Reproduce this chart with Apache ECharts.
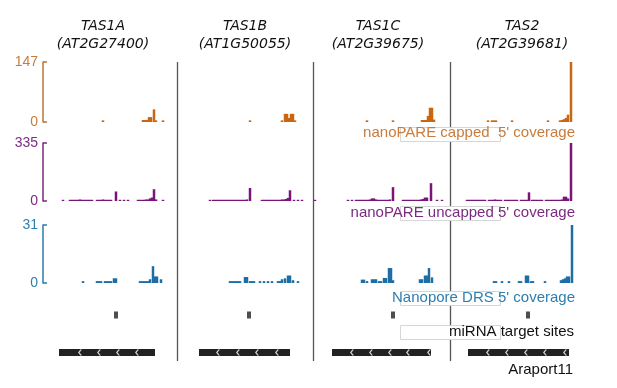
<!DOCTYPE html>
<html>
<head>
<meta charset="utf-8">
<script src="https://cdn.jsdelivr.net/npm/echarts@6/dist/echarts.min.js"></script>
<style>
html, body { margin: 0; padding: 0; background: #fff; }
#chart { width: 617px; height: 388px; }
</style>
</head>
<body>
<div id="chart"></div>
<script>
// loci shown, one column each
var geneNames = ['TAS1A', 'TAS1B', 'TAS1C', 'TAS2'];
var geneIds = ['AT2G27400', 'AT1G50055', 'AT2G39675', 'AT2G39681'];
var trackNames = ["nanoPARE capped  5' coverage", "nanoPARE uncapped 5' coverage", "Nanopore DRS 5' coverage"];
var trackMax = [147, 335, 31];

// 5' coverage, [position in locus, reads], one list per locus
var cappedCov = [
  [[60,4],[100,5],[102,5],[104,5],[106,12],[108,12],[111,31],[113,4],[120,4]],
  [[72,4],[104,4],[107,20],[109,20],[111,10],[113,20],[115,20],[117,4]],
  [[53,4],[79,4],[108,5],[110,5],[112,5],[114,15],[116,35],[118,35],[120,6]],
  [[37,4],[41,4],[43,4],[45,4],[61,4],[97,4],[109,4],[111,5],[113,7],[115,10],[117,18],[120,147]]
];
var uncappedCov = [
  [[20,7],[27,7],[29,7],[31,7],[33,7],[35,7],[37,9],[39,7],[41,7],[43,7],[45,7],[47,7],[49,7],[54,7],[56,7],[58,7],[60,9],[62,7],[64,7],[66,7],[68,7],[73,55],[77,7],[81,7],[85,7],[95,7],[97,7],[99,7],[101,7],[103,9],[105,9],[107,15],[109,20],[111,68],[113,9],[120,7]],
  [[32,7],[35,7],[37,7],[39,7],[41,7],[43,7],[45,7],[47,7],[49,7],[51,7],[53,7],[55,7],[57,7],[59,7],[61,7],[63,7],[65,7],[67,7],[69,9],[72,75],[84,7],[86,7],[88,7],[90,7],[92,7],[94,7],[96,7],[98,7],[100,7],[102,7],[104,9],[106,9],[108,12],[110,18],[112,62],[116,7],[120,7],[124,7]],
  [[1,7],[34,7],[38,7],[42,7],[44,7],[46,7],[48,7],[50,7],[52,7],[54,7],[56,9],[58,15],[60,15],[62,9],[64,7],[66,7],[68,7],[70,7],[72,7],[74,7],[76,9],[79,80],[89,7],[91,7],[93,7],[95,7],[97,7],[99,7],[101,7],[103,7],[105,7],[107,9],[109,12],[111,20],[113,20],[117,103],[123,7],[128,7]],
  [[16,7],[18,7],[20,7],[22,7],[24,7],[26,7],[28,7],[30,7],[32,7],[34,7],[38,7],[40,7],[42,7],[44,9],[46,7],[48,7],[50,7],[54,7],[56,7],[58,7],[60,7],[62,7],[64,7],[66,7],[70,7],[72,7],[74,7],[76,7],[78,50],[81,7],[83,7],[85,7],[87,7],[89,7],[91,7],[95,7],[97,7],[99,7],[101,7],[103,7],[105,7],[107,7],[109,7],[111,9],[113,25],[115,25],[117,15],[120,335]]
];
var nanoporeCov = [
  [[40,1],[54,1],[56,1],[58,1],[62,1],[64,1],[66,1],[68,1],[71,2.5],[73,2.5],[97,1],[99,1],[101,1],[103,1],[105,1],[107,2],[110,9],[112,3.5],[114,3.5],[118,2]],
  [[52,1],[54,1],[56,1],[58,1],[60,1],[62,1],[67,3.2],[69,3.2],[72,1],[74,1],[76,1],[82,1],[86,1],[90,1],[94,1],[100,1],[102,1],[104,2],[107,2.5],[110,4],[112,4],[115,1.5],[120,1]],
  [[48,1.8],[50,1.8],[53,1],[58,2],[60,2],[62,2],[65,1],[67,1],[70,2.7],[72,2.7],[75,8],[77,8],[79,1.5],[106,2],[108,2],[111,4],[113,4],[115,8],[118,3]],
  [[43,1],[45,1],[51,1],[58,1],[68,1],[70,1],[75,4],[77,4],[80,1],[82,1],[94,1],[110,1.5],[112,2],[114,2.5],[116,3.5],[118,3.5],[121,31]]
];

// Araport11 gene models, miRNA target sites
var geneSpans = [[16,112],[21,112],[18,117],[17,118]];
var geneChevrons = [[37,56,75,94],[40,60,79,99],[38,57,76,94,115],[37,56,75,94,114]];
var mirnaSites = [73, 71, 79, 77];

var colLeft = [43, 178, 314, 451];
var colWidth = [134, 135, 136, 128];
var trackTop = [62, 143, 225];
var trackHeight = [60, 58, 58];
var barColor = ['#c9660f', '#7a1478', '#1e6ea6'];
var axisColor = ['#b8763a', '#7a2a7c', '#2e7aa8'];
var labelColor = ['#c97c3c', '#7b2a80', '#2d7fae'];
var trackData = [cappedCov, uncappedCov, nanoporeCov];

var grids = [], xAxes = [], yAxes = [], series = [];

for (var c = 0; c < 4; c++) {
  for (var t = 0; t < 3; t++) {
    var gi = grids.length;
    grids.push({left: colLeft[c], top: trackTop[t], width: colWidth[c], height: trackHeight[t]});
    xAxes.push({type: 'value', gridIndex: gi, min: 0, max: colWidth[c], show: false});
    yAxes.push({
      type: 'value', gridIndex: gi, min: 0, max: trackMax[t], interval: trackMax[t],
      show: c === 0,
      axisLine: {show: true, lineStyle: {color: axisColor[t], width: 1.5}},
      axisTick: {show: true, inside: true, length: 4, lineStyle: {color: axisColor[t], width: 1.5}},
      axisLabel: {color: labelColor[t], fontSize: 14, margin: 5, fontFamily: 'Liberation Sans'},
      splitLine: {show: false}
    });
    series.push({
      type: 'bar', xAxisIndex: gi, yAxisIndex: gi,
      data: trackData[t][c], barWidth: 2.5,
      itemStyle: {color: barColor[t]}, silent: true
    });
  }
  // annotation lanes
  var ai = grids.length;
  grids.push({left: colLeft[c], top: 310, width: colWidth[c], height: 50});
  xAxes.push({type: 'value', gridIndex: ai, min: 0, max: colWidth[c], show: false});
  yAxes.push({type: 'value', gridIndex: ai, min: 0, max: 10, show: false});
  series.push({
    type: 'custom', xAxisIndex: ai, yAxisIndex: ai,
    data: [geneSpans[c]], encode: {x: [0, 1]},
    renderItem: function (params, api) {
      var a = api.coord([api.value(0), 1.5]);
      var b = api.coord([api.value(1), 1.5]);
      return {type: 'rect', shape: {x: a[0], y: a[1] - 3.5, width: b[0] - a[0], height: 7}, style: {fill: '#222'}};
    }
  });
  series.push({
    type: 'scatter', xAxisIndex: ai, yAxisIndex: ai, z: 5,
    data: geneChevrons[c].map(function (p) { return [p, 1.5]; }),
    symbol: 'path://M4,0 L1.6,4 L4,8 L2.4,8 L0,4 L2.4,0 Z', symbolSize: [4, 6],
    itemStyle: {color: '#fff'}
  });
  series.push({
    type: 'scatter', xAxisIndex: ai, yAxisIndex: ai,
    data: [[mirnaSites[c], 9]],
    symbol: 'rect', symbolSize: [4, 7],
    itemStyle: {color: '#222'}
  });
}

var graphics = [];
var titleX = [103, 245, 378, 522];
for (var i = 0; i < 4; i++) {
  graphics.push({type: 'text', x: titleX[i], y: 26, z: 10, style: {text: geneNames[i], font: 'italic 14px "DejaVu Sans"', fill: '#111', textAlign: 'center', textVerticalAlign: 'middle'}});
  graphics.push({type: 'text', x: titleX[i], y: 44, z: 10, style: {text: '(' + geneIds[i] + ')', font: 'italic 14px "DejaVu Sans"', fill: '#111', textAlign: 'center', textVerticalAlign: 'middle'}});
}
[177, 313, 450].forEach(function (x) {
  graphics.push({type: 'line', z: 1, shape: {x1: x + 0.5, y1: 62, x2: x + 0.5, y2: 361}, style: {stroke: '#555', lineWidth: 1.3}});
});
var labelY = [133, 213, 298];
[127, 206, 291, 325].forEach(function (y) {
  graphics.push({type: 'rect', z: 8, shape: {x: 400.5, y: y + 0.5, width: 100, height: 14}, style: {fill: '#fff', stroke: '#d6d6d6', lineWidth: 1}});
});
for (var k = 0; k < 3; k++) {
  graphics.push({type: 'text', x: 575, y: labelY[k], z: 10, style: {text: trackNames[k], font: '15px "Liberation Sans"', fill: labelColor[k], textAlign: 'right', textVerticalAlign: 'middle'}});
}
graphics.push({type: 'text', x: 574, y: 332, z: 10, style: {text: 'miRNA target sites', font: '15px "Liberation Sans"', fill: '#111', textAlign: 'right', textVerticalAlign: 'middle'}});
graphics.push({type: 'text', x: 573, y: 370, z: 10, style: {text: 'Araport11', font: '15px "Liberation Sans"', fill: '#111', textAlign: 'right', textVerticalAlign: 'middle'}});

var chart = echarts.init(document.getElementById('chart'));
var option = {
  animation: false,
  backgroundColor: '#fff',
  grid: grids,
  xAxis: xAxes,
  yAxis: yAxes,
  series: series,
  graphic: graphics
};
chart.setOption(option);
window.addEventListener('resize', function () {
  chart.resize();
});
</script>
</body>
</html>
